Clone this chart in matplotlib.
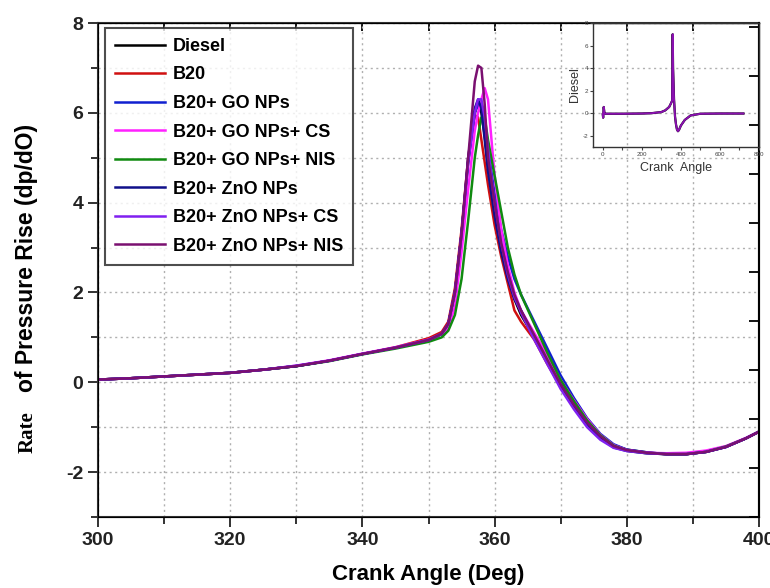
import matplotlib
matplotlib.use("Agg")
import matplotlib.pyplot as plt
from matplotlib.ticker import MultipleLocator

# ---------------- data ----------------
crank = [300, 305, 310, 315, 320, 325, 330, 335, 340, 345, 350, 352, 353, 354, 355, 356,
         357, 357.5, 358, 358.5, 359, 360, 361, 362, 363, 364, 366, 368, 370, 372, 374,
         376, 378, 380, 383, 386, 389, 392, 395, 398, 400]

diesel = [0.06, 0.09, 0.13, 0.17, 0.21, 0.28, 0.36, 0.48, 0.63, 0.77, 0.94, 1.08, 1.3, 2.0, 3.3, 4.9,
          6.0, 6.2, 6.0, 5.5, 4.8, 3.8, 3.0, 2.35, 1.85, 1.5, 1.0, 0.45, -0.05, -0.45, -0.85,
          -1.18, -1.4, -1.5, -1.56, -1.6, -1.6, -1.55, -1.44, -1.25, -1.1]
b20 = [0.06, 0.09, 0.13, 0.17, 0.21, 0.28, 0.36, 0.48, 0.63, 0.78, 0.98, 1.12, 1.35, 2.1, 3.4, 5.0,
       5.95, 5.9, 5.4, 4.9, 4.4, 3.5, 2.8, 2.2, 1.6, 1.35, 0.95, 0.4, -0.1, -0.5, -0.9,
       -1.2, -1.42, -1.51, -1.57, -1.6, -1.6, -1.54, -1.43, -1.25, -1.1]
b20_go = [0.06, 0.09, 0.13, 0.17, 0.21, 0.28, 0.36, 0.48, 0.63, 0.77, 0.94, 1.07, 1.3, 2.0, 3.3, 4.9,
          6.0, 6.2, 6.2, 5.8, 5.2, 4.2, 3.4, 2.8, 2.3, 1.95, 1.35, 0.75, 0.15, -0.35, -0.8,
          -1.15, -1.38, -1.5, -1.56, -1.6, -1.6, -1.55, -1.44, -1.25, -1.1]
b20_go_cs = [0.06, 0.09, 0.13, 0.17, 0.21, 0.28, 0.37, 0.49, 0.64, 0.78, 0.95, 1.08, 1.2, 1.7, 2.9, 4.3,
             5.6, 6.0, 6.3, 6.55, 6.3, 4.6, 3.4, 2.6, 2.0, 1.6, 1.1, 0.6, 0.05, -0.4, -0.82,
             -1.17, -1.4, -1.51, -1.57, -1.58, -1.57, -1.52, -1.42, -1.24, -1.1]
b20_go_nis = [0.06, 0.09, 0.13, 0.17, 0.21, 0.28, 0.36, 0.47, 0.62, 0.75, 0.9, 1.0, 1.15, 1.5, 2.3, 3.6,
              5.0, 5.5, 5.9, 5.9, 5.4, 4.6, 3.8, 3.0, 2.4, 1.95, 1.3, 0.65, 0.05, -0.42, -0.85,
              -1.18, -1.41, -1.52, -1.58, -1.6, -1.6, -1.55, -1.43, -1.25, -1.1]
b20_zno = [0.06, 0.09, 0.13, 0.17, 0.21, 0.28, 0.36, 0.48, 0.63, 0.77, 0.94, 1.08, 1.3, 2.0, 3.3, 5.0,
           6.1, 6.3, 6.1, 5.4, 4.7, 3.7, 2.9, 2.3, 1.85, 1.6, 1.0, 0.45, -0.1, -0.55, -0.95,
           -1.25, -1.45, -1.53, -1.58, -1.6, -1.6, -1.55, -1.44, -1.25, -1.1]
b20_zno_cs = [0.06, 0.09, 0.13, 0.17, 0.21, 0.28, 0.37, 0.48, 0.63, 0.77, 0.94, 1.08, 1.3, 2.0, 3.3, 4.9,
              6.0, 6.3, 6.3, 5.9, 5.2, 4.0, 3.1, 2.4, 1.9, 1.55, 0.95, 0.4, -0.15, -0.6, -1.0,
              -1.28, -1.46, -1.53, -1.58, -1.6, -1.6, -1.55, -1.44, -1.25, -1.1]
b20_zno_nis = [0.06, 0.09, 0.13, 0.17, 0.21, 0.28, 0.36, 0.48, 0.63, 0.77, 0.94, 1.08, 1.3, 2.0, 3.3, 5.0,
               6.7, 7.05, 7.0, 6.2, 5.0, 4.0, 3.1, 2.45, 1.95, 1.6, 1.05, 0.5, -0.05, -0.5, -0.9,
               -1.2, -1.42, -1.51, -1.57, -1.6, -1.6, -1.55, -1.44, -1.25, -1.1]

labels = ["Diesel", "B20", "B20+ GO NPs", "B20+ GO NPs+ CS", "B20+ GO NPs+ NIS",
          "B20+ ZnO NPs", "B20+ ZnO NPs+ CS", "B20+ ZnO NPs+ NIS"]
series = [diesel, b20, b20_go, b20_go_cs, b20_go_nis, b20_zno, b20_zno_cs, b20_zno_nis]
colors = ["#000000", "#d01010", "#1020d0", "#ff20ff", "#108a10", "#10108a", "#8020f0", "#7a1070"]

inset_x = [0, 2, 5, 8, 10, 15, 50, 100, 150, 200, 250, 300, 320, 340, 350, 355, 358, 360,
           365, 370, 375, 380, 385, 390, 400, 420, 450, 500, 600, 700, 720]
inset_y = [-0.1, -0.4, 0.55, 0.1, -0.05, -0.05, -0.05, -0.05, -0.04, -0.03, 0.0, 0.1, 0.25, 0.55,
           0.9, 1.1, 7.0, 4.0, 1.2, -0.3, -1.0, -1.45, -1.6, -1.5, -1.1, -0.6, -0.2, -0.05,
           -0.03, -0.03, -0.03]

# ---------------- figure ----------------
plt.rcParams['font.family'] = ['Liberation Sans', 'DejaVu Sans']
plt.rcParams['axes.unicode_minus'] = False
fig = plt.figure(figsize=(7.7, 5.88), dpi=100)
ax = fig.add_axes([98/770, 1-517/588, (759-98)/770, (517-23)/588])

for y, lab, c in zip(series, labels, colors):
    ax.plot(crank, y, color=c, lw=1.8, label=lab)

ax.set_xlim(300, 400)
ax.set_ylim(-3, 8)
ax.xaxis.set_major_locator(MultipleLocator(20))
ax.xaxis.set_minor_locator(MultipleLocator(10))
ax.yaxis.set_major_locator(MultipleLocator(2))
ax.yaxis.set_minor_locator(MultipleLocator(1))
ax.grid(which='both', ls=(0, (1.5, 2.5)), color='#b0b0b0', lw=1.0)
ax.set_axisbelow(True)
ax.tick_params(which='both', direction='out', width=1.3, colors='#222222')
ax.tick_params(which='major', length=7, labelsize=14)
ax.tick_params(which='minor', length=5)
for t in ax.get_xticklabels() + ax.get_yticklabels():
    t.set_fontweight('bold')
for s in ax.spines.values():
    s.set_linewidth(1.5)
    s.set_color('#333333')

# top ticks inward
sec = ax.secondary_xaxis('top')
sec.xaxis.set_major_locator(MultipleLocator(10))
sec.tick_params(direction='in', length=6, width=1.3, labeltop=False)

tw = ax.twinx()
tw.set_ylim(0, 10.08)
tw.yaxis.set_major_locator(MultipleLocator(1))
tw.tick_params(direction='in', length=7, width=1.3, labelright=False)
tw.spines['right'].set_linewidth(1.5)

ax.set_xlabel("Crank Angle (Deg)", fontsize=16, fontweight='bold', labelpad=11)

fig.text(0.034, 1-258/588, "of Pressure Rise (dp/dO)", rotation=90, fontsize=16.5,
         fontweight='bold', ha='center', va='center')
fig.text(0.036, 1-432/588, "Rate", rotation=90, fontsize=15, fontweight='bold',
         family=['Liberation Serif', 'DejaVu Serif'], ha='center', va='center')

leg = ax.legend(loc='upper left', bbox_to_anchor=(7/661, 1-5/494), frameon=True, fancybox=False,
                edgecolor='#222222', fontsize=13, handlelength=2.8, handletextpad=0.4,
                labelspacing=0.64, borderpad=0.55, borderaxespad=0)
leg.get_frame().set_linewidth(1.5)
for t in leg.get_texts():
    t.set_fontweight('bold')
leg.set_zorder(5)

# inset
ins = fig.add_axes([593/770, 1-147/588, (759-593)/770, (147-23)/588])
ins.set_facecolor('none')
ins.plot(inset_x, inset_y, color='#000000', lw=1.6)
ins.plot(inset_x, inset_y, color='#8a10b0', lw=1.4)
ins.set_xlim(-50, 800)
ins.set_ylim(-3, 8)
ins.set_xticks([0, 200, 400, 600, 800])
ins.set_yticks([-2, 0, 2, 4, 6, 8])
ins.xaxis.set_minor_locator(MultipleLocator(100))
ins.tick_params(which='both', labelsize=4.5, length=2, width=0.8, colors='#444444', pad=1.5)
ins.set_xlabel("Crank  Angle", fontsize=9, color='#333333', labelpad=4)
ins.set_ylabel("Diesel", fontsize=9, color='#333333', labelpad=1)
for s in ins.spines.values():
    s.set_linewidth(1.0)
    s.set_color('#333333')

fig.savefig("out.png", dpi=100)
